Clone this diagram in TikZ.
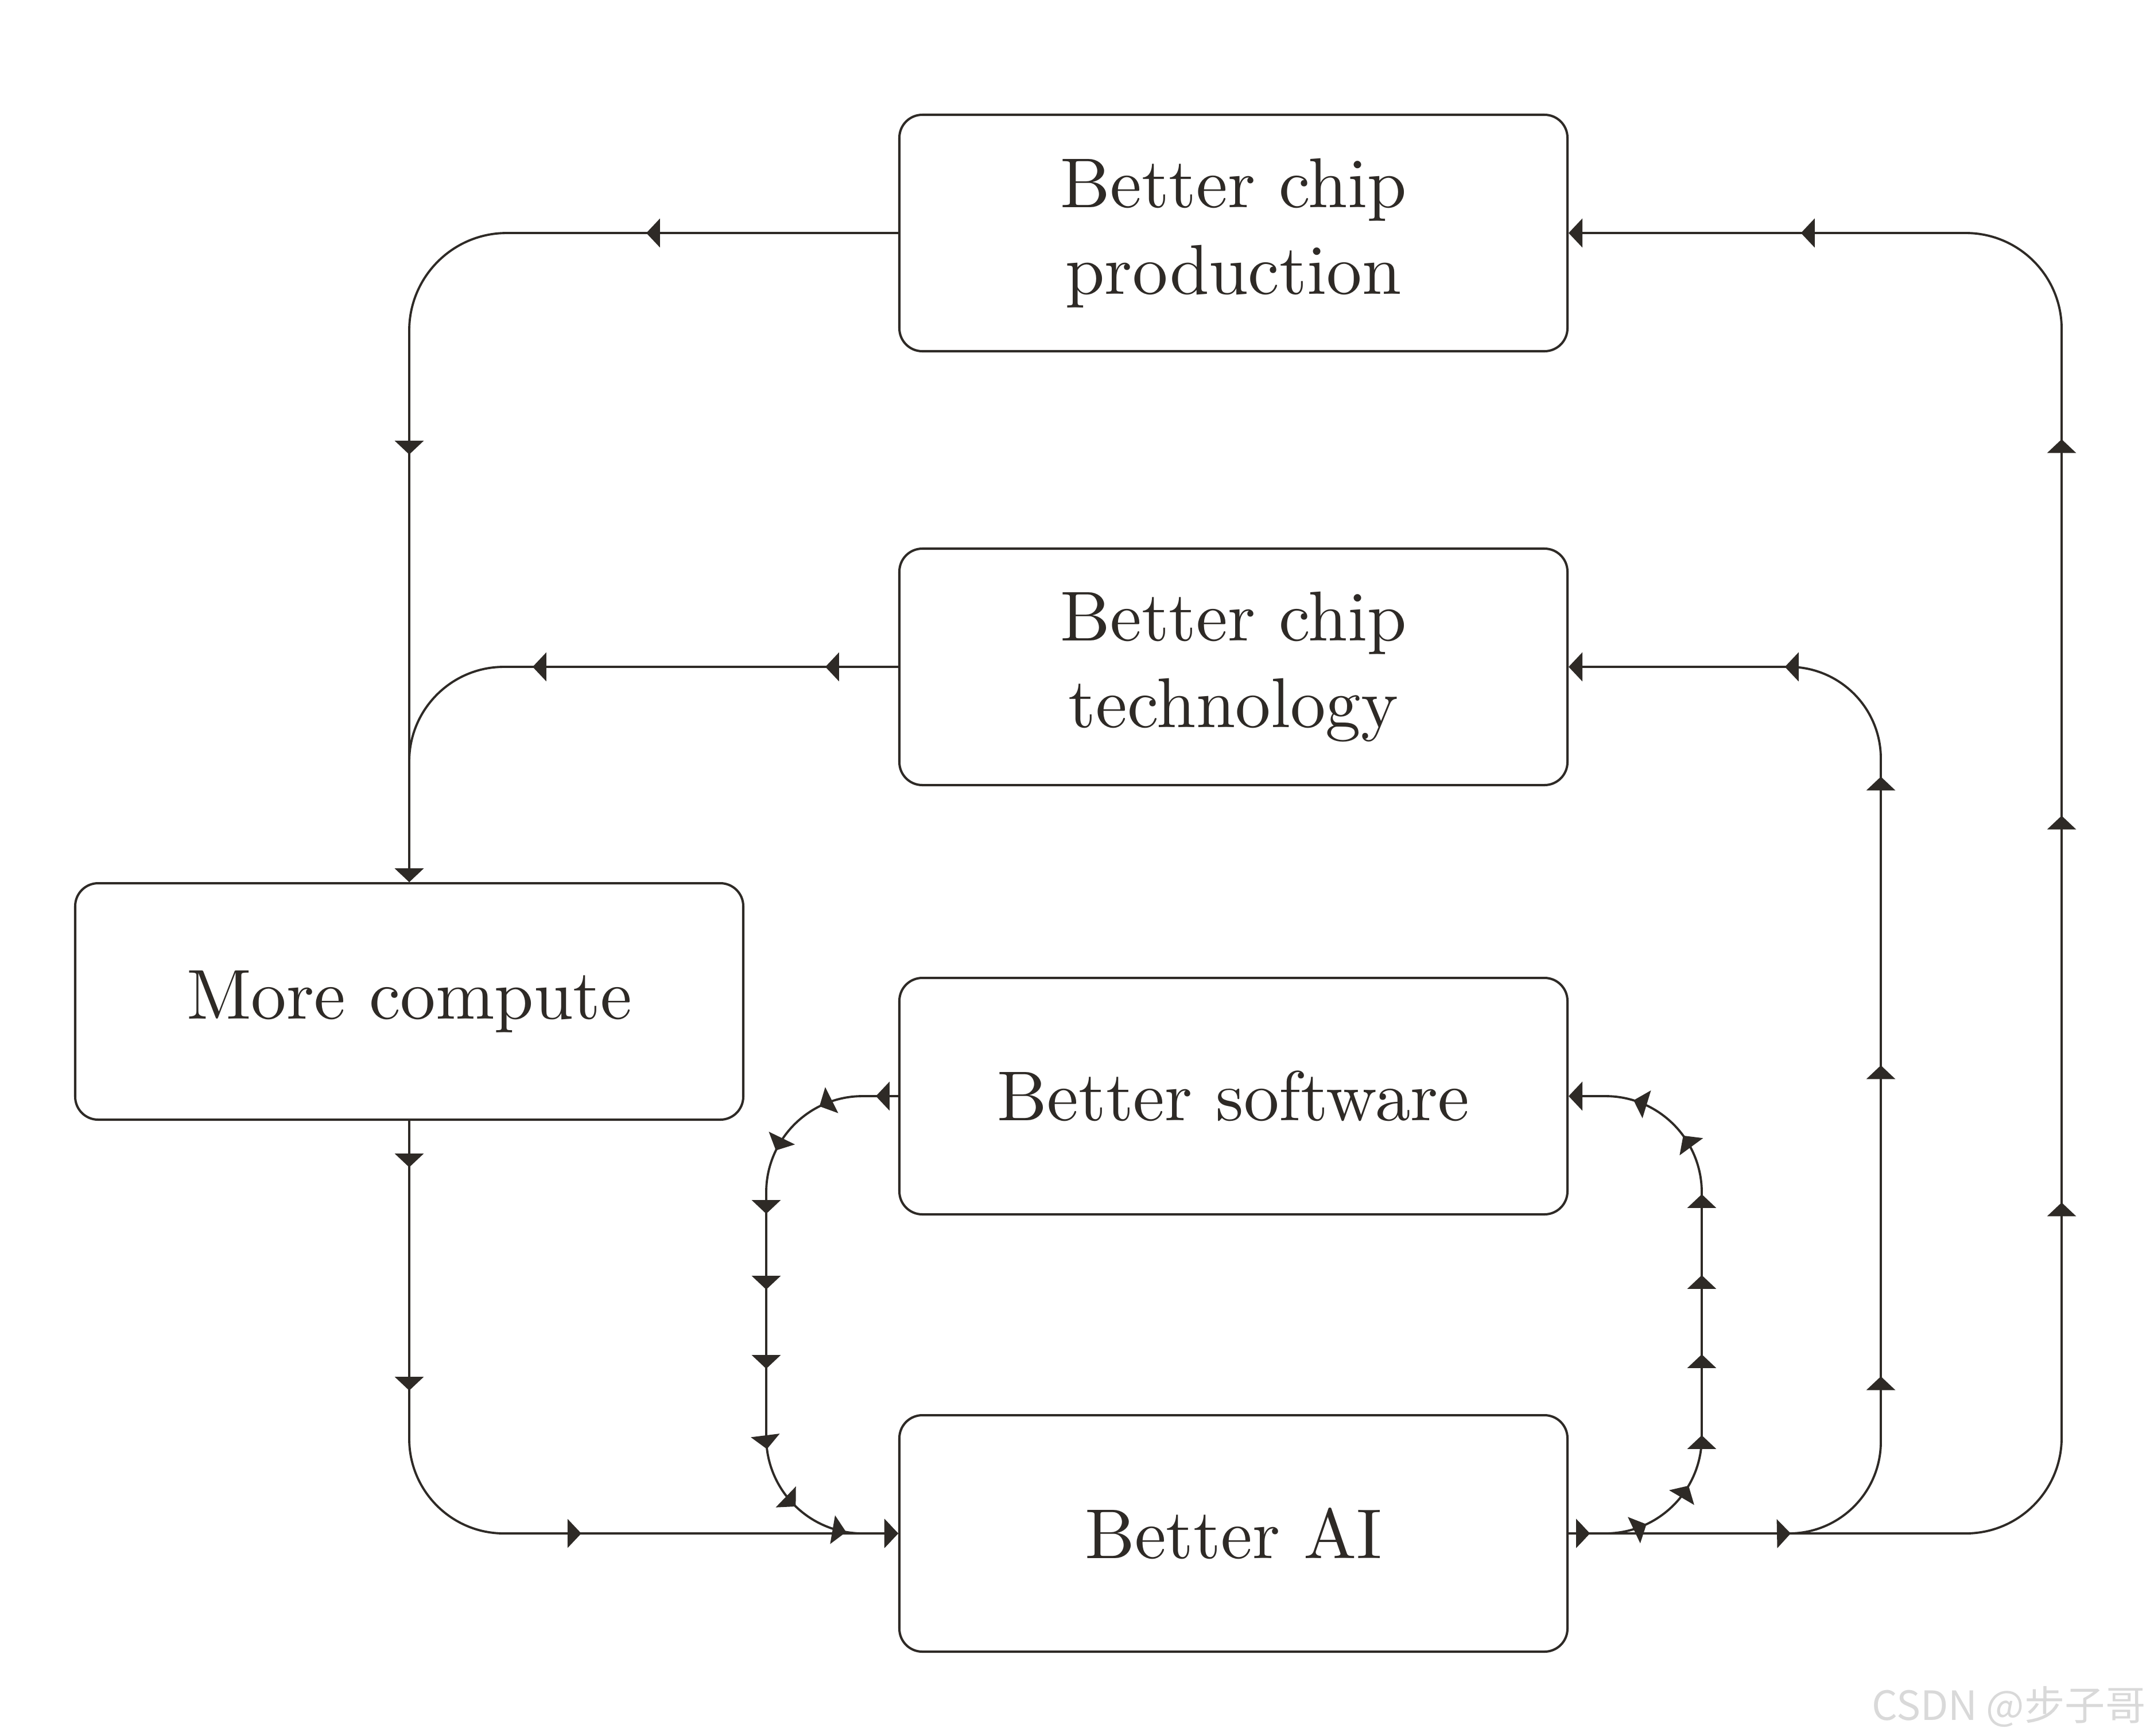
\documentclass[tikz,border=0pt]{standalone}
\usepackage{fontspec}
\usepackage{xcolor}
\usepackage{tikz}
\usetikzlibrary{arrows.meta,decorations.markings}
\newfontfamily\boxfont{lmroman10-regular}[Extension=.otf]
\newfontfamily\cjkfont{Noto Sans CJK SC}
\definecolor{ink}{HTML}{2E2A26}

\begin{document}
\begin{tikzpicture}[
  >={Triangle[length=2.4mm,width=5mm]},
  box/.style={draw=ink, line width=1.15pt, rounded corners=0.4cm,
    minimum width=11.64cm, minimum height=4.12cm, align=center,
    text=ink, font=\boxfont\fontsize{35}{43}\selectfont},
  link/.style={ink, line width=1.1pt, ->},
  tipsat/.style={postaction={decorate, decoration={markings,
    mark=at position #1 with {\arrow{>}}}}}
]
\useasboundingbox (0,0) rectangle (37.46,-30.24);
% boxes
\node[box] (prod) at (21.49,-4.06) {Better chip\\production};
\node[box] (tech) at (21.49,-11.62) {Better chip\\technology};
\node[box] (compute) at (7.13,-17.45) {More compute};
\node[box] (software) at (21.49,-19.10) {Better software};
\node[box] (ai) at (21.49,-26.72) {Better AI};

% left side: chips give compute, compute gives AI
\draw[link, rounded corners=1.7cm, tipsat/.list={4.39cm,11.65cm}]
  (prod.west) -| (compute.north);
\draw[link, rounded corners=1.65cm, tipsat/.list={1.27cm,6.37cm}]
  (tech.west) -| (compute.north);
\draw[link, rounded corners=1.65cm, tipsat/.list={0.81cm,4.70cm,9.48cm}]
  (compute.south) |- (ai.west);

% right side: AI feeds back
\draw[link, rounded corners=1.67cm, tipsat/.list={0.37cm,13.64cm,20.38cm,26.94cm,34.36cm}]
  (ai.east) -| ([xshift=8.59cm]prod.east) -- (prod.east);
\draw[link, rounded corners=1.6cm, tipsat/.list={0.37cm,3.87cm,7.49cm,12.91cm,17.94cm,20.84cm}]
  (ai.east) -| ([xshift=5.44cm]tech.east) -- (tech.east);

% software loop
\draw[link, rounded corners=1.68cm,
  tipsat/.list={0.37cm,1.38cm,2.39cm,3.31cm,4.72cm,6.10cm,7.51cm,8.60cm,9.68cm}]
  (ai.east) -| ([xshift=2.32cm]software.east) -- (software.east);
\draw[link, rounded corners=1.68cm,
  tipsat/.list={0.39cm,1.40cm,2.50cm,3.63cm,4.95cm,6.33cm,7.73cm,8.87cm,9.87cm}]
  (software.west) -| ([xshift=-2.30cm]ai.west) -- (ai.west);

% watermark
\node[anchor=base east, inner sep=0, text=gray!30,
  font=\cjkfont\fontsize{20}{24}\selectfont] (wm) at (37.39,-29.97) {CSDN @步子哥};
\end{tikzpicture}
\end{document}
